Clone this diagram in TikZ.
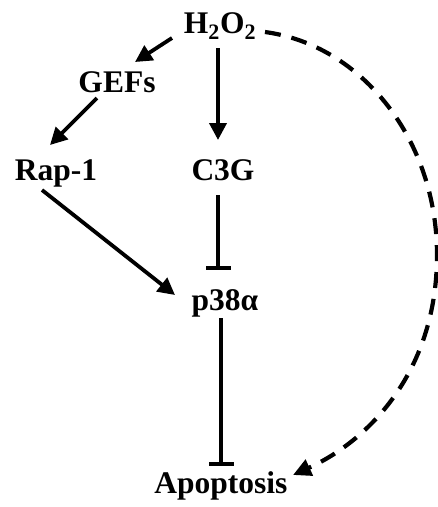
\documentclass[tikz,border=0pt]{standalone}
\usepackage{fontspec}
\setmainfont{Liberation Serif}
\usetikzlibrary{arrows.meta,calc}
\begin{document}
\begin{tikzpicture}[x=1pt,y=-1pt,
  lbl/.style={font=\fontsize{31.5}{36}\selectfont\bfseries, inner sep=0pt, anchor=base},
  link/.style={line width=3.8pt, -{Triangle[length=17pt,width=17pt]}},
  block/.style={line width=3.8pt, -{Bar[width=25pt,line width=3.8pt]}},
  indirect/.style={line width=4.2pt, dash pattern=on 16pt off 11pt,
    -{Triangle[length=18pt,width=17pt]}}]
\useasboundingbox (0,0) rectangle (438,507);

% species
\node[lbl] (h) at (220,33)  {H\textsubscript{2}O\textsubscript{2}};
\node[lbl] (g) at (117,92)  {GEFs};
\node[lbl] (r) at (56,180)  {Rap-1};
\node[lbl] (c) at (223,180) {C3G};
\node[lbl] (p) at (225,310) {p38α};
\node[lbl] (a) at (221,493) {Apoptosis};

% activating links
\draw[link] ($(h.base)+(-48,5)$) -- ($(g.base)+(18,-30)$);
\draw[link] ($(g.base)+(-20,6)$) -- ($(r.base)+(-6,-35)$);
\draw[link] ($(h.base)+(-2,15)$) -- ($(c.base)+(-5,-40)$);
\draw[link] ($(r.base)+(-14,10)$) -- ($(p.base)+(-50,-15)$);

% inhibiting links
\draw[block] ($(c.base)+(-5,15)$) -- ($(p.base)+(-7,-40)$);
\draw[block] ($(p.base)+(-4,8)$) -- ($(a.base)+(0,-27)$);

% direct effect of H2O2 on apoptosis
\draw[indirect] ($(h.base)+(45,-1)$)
  .. controls ($(h.base)+(142,12)$) and ($(h.base)+(217,107)$) .. ($(h.base)+(217,222)$)
  .. controls ($(h.base)+(217,337)$) and ($(h.base)+(150,407)$) .. ($(a.base)+(72,-18)$);
\end{tikzpicture}
\end{document}
